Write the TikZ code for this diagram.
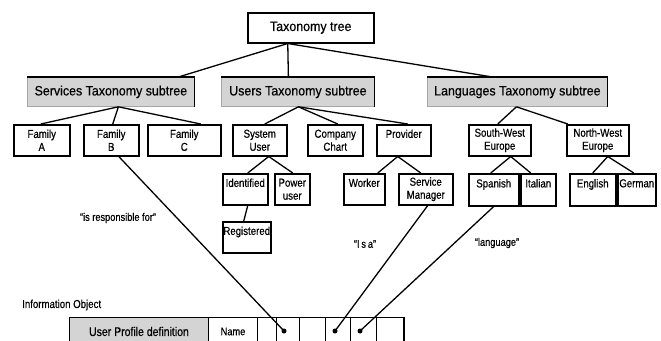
\documentclass[tikz,border=0pt]{standalone}
\usepackage{fontspec}
\setmainfont{Liberation Sans}[FakeBold=0.5]
\newfontfamily\narrowf{Liberation Sans}[FakeStretch=0.84,FakeBold=0.5]
\newfontfamily\bigf{Liberation Sans}[FakeStretch=0.92,FakeBold=0.5]
\begin{document}
\begin{tikzpicture}[x=1pt,y=-1pt,
  box/.style={draw=black,line width=1.5pt,inner sep=0pt,anchor=north west,align=center,
    font=\narrowf\fontsize{11.5}{13}\selectfont},
  graybox/.style={fill=black!17,draw=black!35,line width=0.8pt,inner sep=0pt,anchor=north west,
    font=\bigf\fontsize{13.5}{15}\selectfont},
  conn/.style={line width=1.3pt},
  cell/.style={draw=black,line width=1pt,inner sep=0pt,anchor=north west,minimum height=28pt,
    font=\narrowf\fontsize{11}{12}\selectfont},
  dotn/.style={circle,fill=black,inner sep=0pt,minimum size=5pt},
  lbl/.style={font=\narrowf\fontsize{11}{12}\selectfont,inner sep=0pt}
]
\useasboundingbox (0,0) rectangle (661,340);
% root
\node[box,font=\bigf\fontsize{13.5}{15}\selectfont,minimum width=126pt,minimum height=30pt] (tax) at (247,12) {Taxonomy tree};
% subtrees
\node[graybox,minimum width=167pt,minimum height=29pt] (svc) at (27,77) {Services Taxonomy subtree};
\node[graybox,minimum width=153pt,minimum height=29pt] (usr) at (221,77) {Users Taxonomy subtree};
\node[graybox,minimum width=180pt,minimum height=29pt] (lang) at (427,77) {Languages Taxonomy subtree};
\foreach \n in {svc,usr,lang}{
  \draw[line width=1.2pt] (\n.north west) -- (\n.north east) -- (\n.south east);
}
% level 2
\node[box,minimum width=56pt,minimum height=31pt] (famA) at (13,124) {Family\\A};
\node[box,minimum width=55pt,minimum height=31pt] (famB) at (83,124) {Family\\B};
\node[box,minimum width=73pt,minimum height=31pt] (famC) at (147,124) {Family\\C};
\node[box,minimum width=54pt,minimum height=31pt] (sysu) at (232,124) {System\\User};
\node[box,minimum width=55pt,minimum height=31pt] (comp) at (307,124) {Company\\Chart};
\node[box,minimum width=54pt,minimum height=31pt] (prov) at (376,124) {Provider\\[0pt]\mbox{}};
\node[box,minimum width=62pt,minimum height=31pt] (sw) at (468,124) {South-West\\Europe};
\node[box,minimum width=62pt,minimum height=31pt] (nw) at (566,124) {North-West\\Europe};
% level 3
\node[box,minimum width=45pt,minimum height=31pt] (ident) at (222,173) {Identified\\[0pt]\mbox{}};
\node[box,minimum width=35pt,minimum height=31pt] (power) at (274,173) {Power\\user};
\node[box,minimum width=48pt,minimum height=31pt] (reg) at (222,221) {Registered\\[0pt]\mbox{}};
\node[box,minimum width=41pt,minimum height=31pt] (worker) at (343,173) {Worker\\[0pt]\mbox{}};
\node[box,minimum width=54pt,minimum height=31pt] (sm) at (398,173) {Service\\Manager};
\node[box,minimum width=50pt,minimum height=32pt] (span) at (468,173) {Spanish\\[0pt]\mbox{}};
\node[box,minimum width=35pt,minimum height=32pt] (ital) at (520,173) {Italian\\[0pt]\mbox{}};
\node[box,minimum width=46pt,minimum height=32pt] (eng) at (569,173) {English\\[0pt]\mbox{}};
\node[box,minimum width=38pt,minimum height=32pt] (ger) at (617,173) {German\\[0pt]\mbox{}};
% tree connectors
\draw[conn] ([xshift=-23pt]tax.south) -- ([xshift=67.5pt]svc.north);
\draw[conn] ([xshift=-23pt]tax.south) -- ([xshift=-9.5pt]usr.north);
\draw[conn] ([xshift=-23pt]tax.south) -- ([xshift=-25pt]lang.north);
\draw[conn] ([xshift=7.5pt]svc.south) -- ([xshift=-1pt]famA.north);
\draw[conn] ([xshift=7.5pt]svc.south) -- ([xshift=1.5pt]famB.north);
\draw[conn] ([xshift=7.5pt]svc.south) -- ([xshift=16.5pt]famC.north);
\draw[conn] ([xshift=0.5pt]usr.south) -- ([xshift=5pt]sysu.north);
\draw[conn] ([xshift=0.5pt]usr.south) -- ([xshift=2.5pt]comp.north);
\draw[conn] ([xshift=0.5pt]usr.south) -- ([xshift=4pt]prov.north);
\draw[conn] ([xshift=-1pt]lang.south) -- ([xshift=-2pt]sw.north);
\draw[conn] ([xshift=-1pt]lang.south) -- ([xshift=-30pt]nw.north);
\draw[conn] ([xshift=9pt]sysu.south) -- ([xshift=2.5pt]ident.north);
\draw[conn] ([xshift=9pt]sysu.south) -- ([xshift=0.5pt]power.north);
\draw[conn] ([xshift=-6pt]prov.south) -- ([xshift=13.5pt]worker.north);
\draw[conn] ([xshift=-6pt]prov.south) -- ([xshift=-5pt]sm.north);
\draw[conn] ([xshift=11pt]sw.south) -- ([xshift=-3pt]span.north);
\draw[conn] ([xshift=11pt]sw.south) -- ([xshift=-7.5pt]ital.north);
\draw[conn] ([xshift=10pt]nw.south) -- (eng.north);
\draw[conn] ([xshift=10pt]nw.south) -- ([xshift=-3pt]ger.north);
\draw[conn] ([xshift=2.5pt]ident.south) -- ([xshift=-3pt]reg.north);
% information object
\node[lbl,anchor=west,font=\narrowf\fontsize{11.5}{12}\selectfont] (io) at (22,305) {Information Object};
\node[cell,fill=black!17,minimum width=139pt,font=\narrowf\fontsize{12.5}{13}\selectfont] (t0) at (69,317) {User Profile definition};
\node[cell,minimum width=49pt] (t1) at (208,317) {Name};
\node[cell,minimum width=19pt] (t2) at (257,317) {};
\node[cell,minimum width=23pt] (t3) at (276,317) {};
\node[cell,minimum width=26pt] (t4) at (299,317) {};
\node[cell,minimum width=25pt] (t5) at (325,317) {};
\node[cell,minimum width=26pt] (t6) at (350,317) {};
\node[cell,minimum width=27pt] (t7) at (376,317) {};
\draw[line width=2pt] (t7.north east) -- (t7.south east);
\node[dotn] (d1) at (284,331) {};
\node[dotn] (d2) at (335,331) {};
\node[dotn] (d3) at (360,331) {};
% relation connectors
\draw[conn] ([xshift=7.5pt]famB.south) -- (d1.center);
\draw[conn] ([xshift=2pt]sm.south) -- (d2.center);
\draw[conn] (span.south) -- (d3.center);
% labels
\node[lbl] (l1) at (118,218) {“is responsible for”};
\node[lbl] (l2) at (365,244) {“I\,s\,a”};
\node[lbl] (l3) at (497,243) {“language”};
\end{tikzpicture}
\end{document}
